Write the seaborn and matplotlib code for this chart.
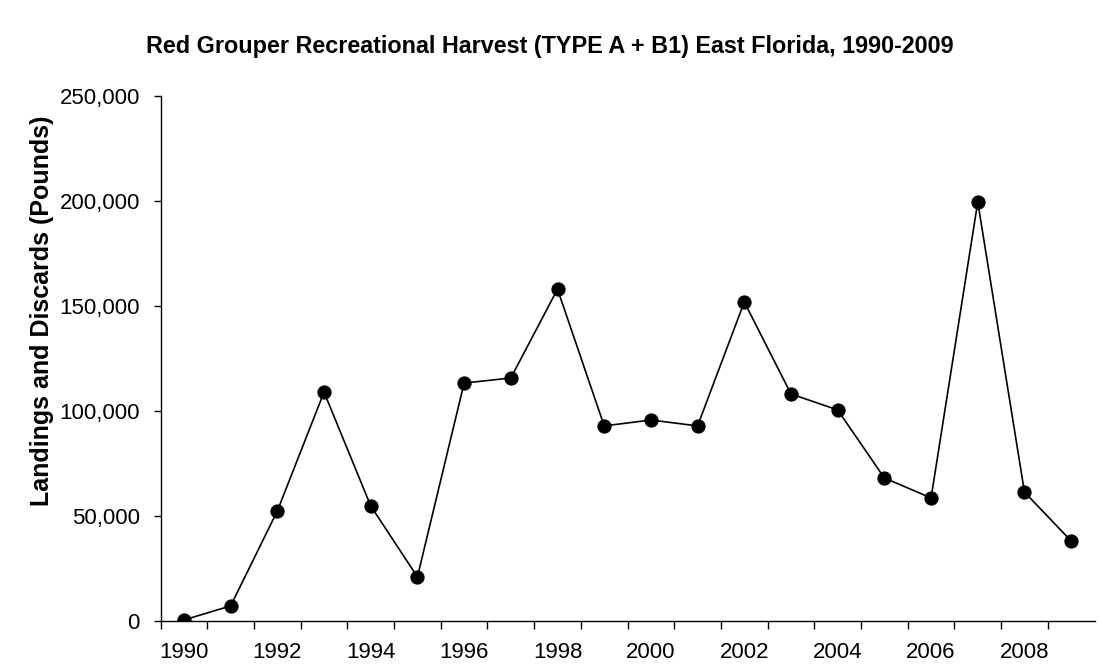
import numpy as np
import pandas as pd
from matplotlib import pyplot as plt
from matplotlib.ticker import FuncFormatter
import seaborn as sns

# values
years = list(range(1990, 2010))
pounds = [500, 7200, 52400, 109000, 54800, 21000, 113300, 115700, 158000, 92900,
          95700, 92900, 151900, 108100, 100500, 68100, 58600, 199500, 61400, 38100]

df = pd.DataFrame({'year': years, 'pounds': pounds})

sns.set_style("ticks")
plt.rcParams['font.family'] = ['Liberation Sans', 'DejaVu Sans']
plt.rcParams['text.color'] = 'black'
plt.rcParams['xtick.color'] = 'black'
plt.rcParams['ytick.color'] = 'black'
plt.rcParams['axes.labelcolor'] = 'black'

fig = plt.figure(figsize=(11, 6.71), dpi=100)
ax = fig.add_axes([0.146, 0.0745, 0.849, 0.7825])

sns.lineplot(data=df, x='year', y='pounds', color='black', linewidth=1.2,
             marker='o', markersize=9.5, markeredgecolor='black', ax=ax)

# category style x axis: ticks between years, labels on every other year
ax.set_xlim(1989.5, 2009.5)
ax.set_xticks(np.arange(1990, 2010) - 0.5)
ax.set_xticklabels([])
ax.set_xticks(years[::2], minor=True)
ax.set_xticklabels([str(y) for y in years[::2]], minor=True, fontsize=16)
ax.tick_params(axis='x', which='major', length=6, width=1, direction='out')
ax.tick_params(axis='x', which='minor', length=0, pad=15)

ax.set_ylim(0, 250000)
ax.set_yticks(range(0, 250001, 50000))
ax.yaxis.set_major_formatter(FuncFormatter(lambda v, p: f'{int(v):,}'))
ax.tick_params(axis='y', length=5, width=1, direction='out', labelsize=16, pad=10)

sns.despine(ax=ax)
for s in ['left', 'bottom']:
    ax.spines[s].set_color('black')
    ax.spines[s].set_linewidth(1)

ax.set_xlabel('')
ax.set_ylabel('Landings and Discards (Pounds)', fontsize=18, fontweight='bold',
              va='center')
ax.yaxis.set_label_coords(-0.127, 0.59)
fig.text(0.5, 0.93, 'Red Grouper Recreational Harvest (TYPE A + B1) East Florida, 1990-2009',
         ha='center', va='center', fontsize=16.8, fontweight='bold')

fig.savefig('out.png', dpi=100)
